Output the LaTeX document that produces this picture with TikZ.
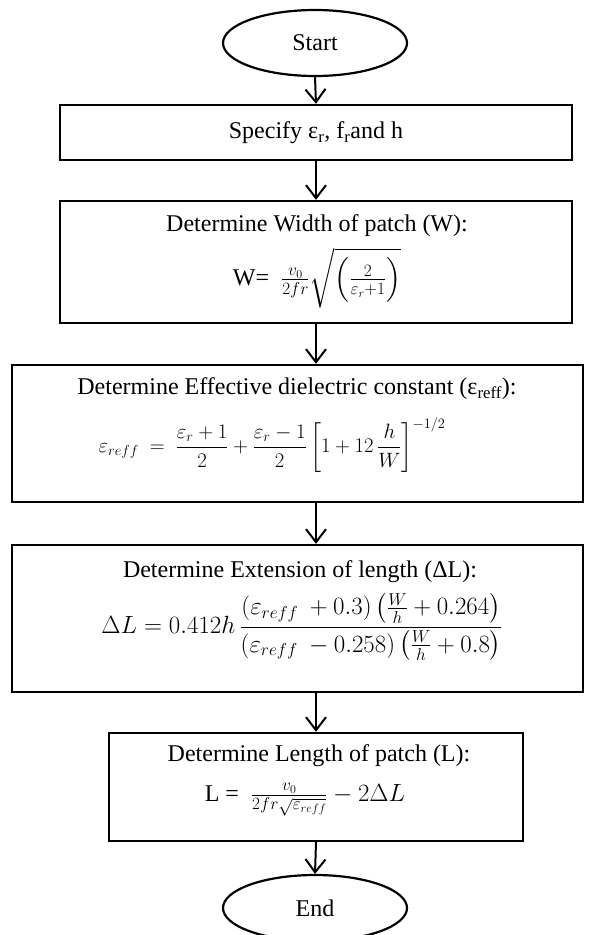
\documentclass[tikz,border=0pt]{standalone}
\usepackage{fontspec}
\setmainfont{Liberation Serif}
\usepackage{amsmath}
\usetikzlibrary{shapes.geometric,arrows.meta}
\tikzset{
  base/.style={font=\fontsize{24pt}{28pt}\selectfont, inner sep=0pt},
  smallmath/.style={font=\fontsize{21pt}{25pt}\selectfont, inner sep=0pt},
  midmath/.style={font=\fontsize{23pt}{27pt}\selectfont, inner sep=0pt},
  term/.style={base, ellipse, draw, line width=2.2pt, minimum width=184pt, minimum height=66pt},
  procbox/.style={draw, line width=2.4pt, rectangle, inner sep=0pt},
  txt/.style={base},
  arr/.style={line width=2pt, -{Straight Barb[length=13pt,width=20pt,line width=2pt]}}
}
\begin{document}
\begin{tikzpicture}[x=1pt,y=-1pt]
\useasboundingbox (0,0) rectangle (595,935);
% terminals
\node[term] (start) at (315,43) {Start};
\node[term] (end) at (315,908) {End};
% boxes
\node[procbox, minimum width=512pt, minimum height=55pt] (spec) at (316,132.5) {};
\node[procbox, minimum width=512pt, minimum height=122pt] (wbox) at (316,262) {};
\node[procbox, minimum width=571pt, minimum height=137pt] (ebox) at (297.5,433.5) {};
\node[procbox, minimum width=571pt, minimum height=147pt] (dbox) at (297.5,618.5) {};
\node[procbox, minimum width=414pt, minimum height=108pt] (lbox) at (316,787) {};
% texts
\node[txt] (spect) at (316,133) {Specify ε\textsubscript{r}, f\textsubscript{r}and h};
\node[txt] (wt) at (317,226) {Determine Width of patch (W):};
\node[txt] (wf) at (317,278) {W=\ \ $\frac{v_0}{2fr}\sqrt{\left(\frac{2}{\varepsilon_r+1}\right)}$};
\node[txt] (et) at (297,389) {Determine Effective dielectric constant (ε\textsubscript{reff}):};
\node[smallmath] (ef) at (272,445) {$\varepsilon_{reff}\ =\ \dfrac{\varepsilon_r+1}{2}+\dfrac{\varepsilon_r-1}{2}\left[1+12\,\dfrac{h}{W}\right]^{-1/2}$};
\node[txt] (dt) at (300,572) {Determine Extension of length (ΔL):};
\node[midmath] (df) at (302,627) {$\Delta L=0.412h\,\dfrac{\left(\varepsilon_{reff}\ +0.3\right)\left(\frac{W}{h}+0.264\right)}{\left(\varepsilon_{reff}\ -0.258\right)\left(\frac{W}{h}+0.8\right)}$};
\node[txt] (lt) at (319,756) {Determine Length of patch (L):};
\node[txt] (lf) at (305,800) {L =\ \ $\frac{v_0}{2fr\sqrt{\varepsilon_{reff}}}-2\Delta L$};
% connectors
\draw[arr] (start.south) -- (spec.north);
\draw[arr] (spec.south) -- (wbox.north);
\draw[arr] (wbox.south) -- (wbox.south |- ebox.north);
\draw[arr] (wbox.south |- ebox.south) -- (wbox.south |- dbox.north);
\draw[arr] (wbox.south |- dbox.south) -- (lbox.north);
\draw[arr] (lbox.south) -- (end.north);
\end{tikzpicture}
\end{document}
